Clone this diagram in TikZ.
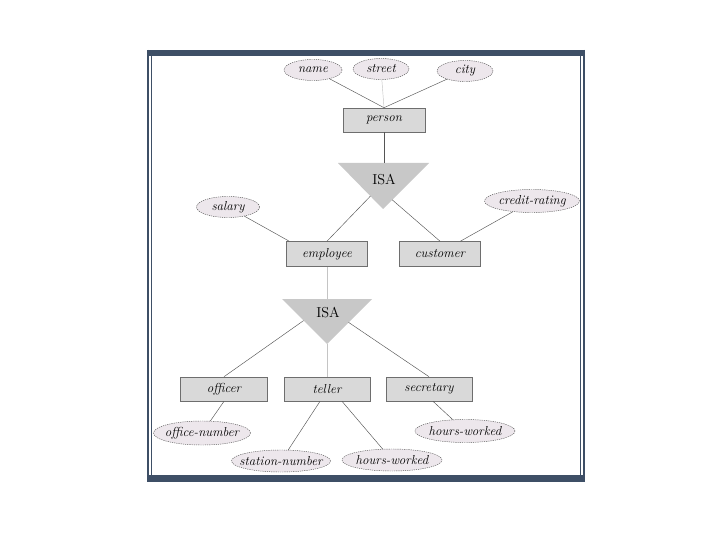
\documentclass[tikz,border=0pt]{standalone}
\usetikzlibrary{calc, shapes.geometric}
\definecolor{Frame}{HTML}{3E4F66}
\definecolor{Entity}{HTML}{D9D9D9}
\definecolor{Attr}{HTML}{EDE7EC}
\definecolor{Isa}{HTML}{C8C8C8}
\definecolor{Edge}{HTML}{555555}
\definecolor{Faint}{HTML}{C4C4C4}

\begin{document}
\begin{tikzpicture}[
  x=1pt, y=-1pt,
  entity/.style={
    rectangle,
    draw=Edge!85,
    fill=Entity,
    line width=0.6pt,
    minimum width=82pt,
    minimum height=24pt,
    inner sep=0pt,
    font=\fontsize{13}{15}\selectfont\itshape
  },
  attr/.style={
    ellipse,
    draw=Edge,
    dash pattern=on 1.2pt off 1pt,
    fill=Attr,
    line width=0.45pt,
    minimum height=21pt,
    inner xsep=-12pt,
    inner ysep=0pt,
    font=\fontsize{13}{15}\selectfont\itshape
  },
  link/.style={
    draw=Edge,
    line width=0.45pt
  },
  faint/.style={
    draw=Faint,
    line width=0.45pt
  },
  isa/.style={
    fill=Isa
  }
]

\useasboundingbox (0,0) rectangle (720,540);
\fill[white] (0,0) rectangle (720,540);

% frame
\fill[Frame] (148,50) rectangle (585,56.5);
\fill[Frame] (148,475) rectangle (585,482);
\draw[Frame, line width=2pt] (148,50) -- (148,482);
\draw[Frame, line width=1.2pt] (151.5,56) -- (151.5,475);
\draw[Frame, line width=2pt] (584,50) -- (584,482);
\draw[Frame, line width=1.2pt] (580.3,56) -- (580.3,475);

% top level
\node[attr, minimum width=58pt] (name) at (313,70) {name};
\node[attr, minimum width=56pt] (street) at (381,69) {street};
\node[attr, minimum width=56pt] (city) at (465,71) {city};
\node[entity] (person) at (384,120) {person};

\coordinate (isa1tl) at (338,163);
\coordinate (isa1tr) at (429,163);
\coordinate (isa1b) at (383,209);
\fill[isa] (isa1tl) -- (isa1tr) -- (isa1b) -- cycle;
\node[font=\Large] (isa1) at (384,180) {ISA};

\draw[link] (name) -- (person.north);
\draw[faint] (street) -- (person.north);
\draw[link] (city) -- (person.north);
\draw[link, line width=0.8pt] (person.south) -- (384,163);

% middle level
\node[attr, minimum width=63pt] (salary) at (228,207) {salary};
\node[attr, minimum width=95pt, minimum height=23pt] (credit) at (532,201) {credit-rating};
\node[entity, minimum width=81pt, minimum height=25pt] (employee) at (327,254) {employee};
\node[entity, minimum width=81pt, minimum height=25pt] (customer) at (440,254) {customer};

\draw[link] ($(isa1tl)!0.72!(isa1b)$) -- (employee.north);
\draw[link] ($(isa1tr)!0.8!(isa1b)$) -- (customer.north);
\draw[link] (salary) -- ($(employee.north west)+(3,0)$);
\draw[link] (credit) -- ($(customer.north)!0.5!(customer.north east)$);

\coordinate (isa2tl) at (282,299);
\coordinate (isa2tr) at (372,299);
\coordinate (isa2b) at (327,344);
\fill[isa] (isa2tl) -- (isa2tr) -- (isa2b) -- cycle;
\node[font=\Large] (isa2) at (328,313) {ISA};

\draw[faint] (employee.south) -- (327,299);

% bottom level
\node[entity, minimum width=87pt] (officer) at (224,389) {officer};
\node[entity, minimum width=86pt] (teller) at (327,389) {teller};
\node[entity, minimum width=86pt] (secretary) at (429,389) {secretary};

\draw[link] ($(isa2tl)!0.48!(isa2b)$) -- (officer.north);
\draw[faint] (isa2b) -- (teller.north);
\draw[link] ($(isa2tr)!0.52!(isa2b)$) -- (secretary.north);

\node[attr, minimum width=97pt, minimum height=24pt] (office) at (202,433) {office-number};
\node[attr, minimum width=99pt, minimum height=22pt] (station) at (281,461) {station-number};
\node[attr, minimum width=100pt, minimum height=22pt] (hours1) at (392,460) {hours-worked};
\node[attr, minimum width=100pt, minimum height=23pt] (hours2) at (465,431) {hours-worked};

\draw[link] (officer.south) -- (office);
\draw[link] ($(teller.south)+(-7,0)$) -- (station);
\draw[link] ($(teller.south)+(15,0)$) -- (hours1);
\draw[link] ($(secretary.south)+(4,0)$) -- (hours2);

\end{tikzpicture}
\end{document}
